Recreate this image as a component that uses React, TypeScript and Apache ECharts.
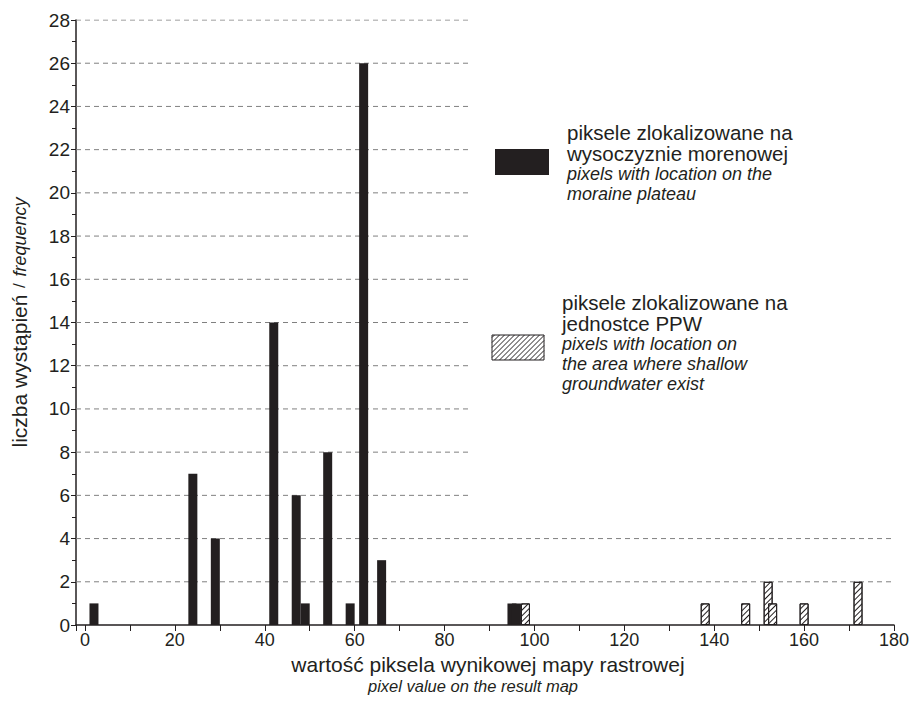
import React, { useEffect, useRef } from 'react';
import * as echarts from 'echarts';

// Black bars: pixels on the moraine plateau
const moraineX = [2, 24, 29, 42, 47, 49, 54, 59, 62, 66, 95, 96];
const moraineY = [1, 7, 4, 14, 6, 1, 8, 1, 26, 3, 1, 1];
// Hatched bars: pixels on PPW unit
const ppwX = [98, 138, 147, 152, 153, 160, 172];
const ppwY = [1, 1, 1, 2, 1, 1, 2];

const fullGridLevels = [2, 4];
const shortGridLevels = [6, 8, 10, 12, 14, 16, 18, 20, 22, 24, 26, 28];

const legendMoraine = ['piksele zlokalizowane na', 'wysoczyznie morenowej'];
const legendMoraineEn = ['pixels with location on the', 'moraine plateau'];
const legendPpw = ['piksele zlokalizowane na', 'jednostce PPW'];
const legendPpwEn = ['pixels with location on', 'the area where shallow', 'groundwater exist'];

const X_MIN = -2;
const X_MAX = 180;
const SHORT_GRID_END = 85.5;

const INK = '#231f20';
const FONT = "'Liberation Sans', Arial, Helvetica, sans-serif";

function hatchLines(x0: number, y0: number, w: number, h: number, step: number) {
  const x1 = x0 + w;
  const y1 = y0 + h;
  const out: any[] = [];
  for (let c = x0 + y0 + step / 2; c < x1 + y1; c += step) {
    const xa = Math.max(x0, c - y1);
    const xb = Math.min(x1, c - y0);
    if (xa < xb) {
      out.push({
        type: 'line',
        shape: { x1: xa, y1: c - xa, x2: xb, y2: c - xb },
        style: { stroke: INK, lineWidth: 1 },
        silent: true,
      });
    }
  }
  return out;
}

function legendText(x: number, y: number, pl: string[], en: string[]) {
  const text = [...pl.map((s) => `{a|${s}}`), ...en.map((s) => `{b|${s}}`)].join('\n');
  return {
    type: 'text',
    x,
    y,
    silent: true,
    style: {
      text,
      fill: INK,
      textAlign: 'left',
      textVerticalAlign: 'top',
      rich: {
        a: { fontSize: 20.5, fontFamily: FONT, fill: INK, color: INK, lineHeight: 21 },
        b: { fontSize: 18, fontStyle: 'italic', fontFamily: FONT, fill: INK, color: INK, lineHeight: 20 },
      },
    },
  };
}

export default function App() {
  const ref = useRef<HTMLDivElement>(null);
  useEffect(() => {
    const chart = echarts.init(ref.current!, null, { renderer: 'svg' });
    const gridSeries = [
      ...fullGridLevels.map((v) => ({ level: v, end: X_MAX })),
      ...shortGridLevels.map((v) => ({ level: v, end: SHORT_GRID_END })),
    ].map((g) => ({
      type: 'line',
      z: 1,
      silent: true,
      symbol: 'none',
      data: [
        [X_MIN, g.level],
        [g.end, g.level],
      ],
      lineStyle: { color: '#808080', width: 1, type: [5, 4] },
    }));

    const option: any = {
      animation: false,
      backgroundColor: '#ffffff',
      textStyle: { fontFamily: FONT },
      grid: { left: 76, right: 14, top: 20, bottom: 76, containLabel: false },
      xAxis: {
        type: 'value',
        min: X_MIN,
        max: X_MAX,
        splitNumber: 9,
        name: '{a|wartość piksela wynikowej mapy rastrowej}\n{b|pixel value on the result map}',
        nameLocation: 'middle',
        nameGap: 25,
        nameTextStyle: {
          color: INK,
          rich: {
            a: { fontSize: 21, fontFamily: FONT, color: INK, lineHeight: 23, padding: [0, 0, 0, 6] },
            b: { fontSize: 16.5, fontStyle: 'italic', fontFamily: FONT, color: INK, lineHeight: 20, padding: [0, 24, 0, 0] },
          },
        },
        axisLine: { onZero: false, lineStyle: { color: INK, width: 1.5 } },
        axisTick: { show: true, length: 6, lineStyle: { color: INK, width: 1 } },
        minorTick: { show: true, splitNumber: 2, length: 6, lineStyle: { color: INK, width: 1 } },
        axisLabel: {
          color: INK,
          fontSize: 18,
          fontFamily: FONT,
          margin: 6,
          formatter: (v: number) => (v < 0 ? '' : String(v)),
        },
        splitLine: { show: false },
      },
      yAxis: {
        type: 'value',
        min: 0,
        max: 28,
        interval: 2,
        name: '{a|liczba wystąpień}  {c|/}  {b|frequency}',
        nameLocation: 'middle',
        nameGap: 46,
        nameTextStyle: {
          color: INK,
          rich: {
            a: { fontSize: 21, fontFamily: FONT, color: INK },
            c: { fontSize: 17, fontFamily: FONT, color: INK },
            b: { fontSize: 18, fontStyle: 'italic', fontFamily: FONT, color: INK },
          },
        },
        axisLine: { show: true, onZero: false, lineStyle: { color: INK, width: 1.5 } },
        axisTick: { show: true, length: 5, lineStyle: { color: INK, width: 1 } },
        minorTick: { show: true, splitNumber: 2, length: 4, lineStyle: { color: INK, width: 1 } },
        axisLabel: { color: INK, fontSize: 19, fontFamily: FONT, margin: 6 },
        splitLine: { show: false },
      },
      series: [
        ...gridSeries,
        {
          type: 'bar',
          name: 'moraine',
          z: 3,
          barWidth: 9,
          data: moraineX.map((x, i) => [x, moraineY[i]]),
          itemStyle: { color: INK },
        },
        {
          type: 'bar',
          name: 'ppw',
          z: 3,
          barWidth: 9,
          barGap: '-100%',
          data: ppwX.map((x, i) => [x, ppwY[i]]),
          itemStyle: {
            color: '#ffffff',
            borderColor: INK,
            borderWidth: 1,
            decal: {
              symbol: 'rect',
              symbolSize: 1,
              dashArrayX: [1, 0],
              dashArrayY: [1, 3],
              rotation: -Math.PI / 4,
              color: INK,
            },
          },
        },
      ],
      graphic: [
        { type: 'rect', shape: { x: 495, y: 149, width: 54, height: 26 }, style: { fill: INK }, silent: true },
        legendText(567, 121.5, legendMoraine, legendMoraineEn),
        { type: 'rect', shape: { x: 492, y: 335, width: 52, height: 25 }, style: { fill: '#ffffff', stroke: INK, lineWidth: 1 }, silent: true },
        ...hatchLines(492, 335, 52, 25, 5),
        legendText(562, 291.5, legendPpw, legendPpwEn),
      ],
    };
    chart.setOption(option);
    return () => chart.dispose();
  }, []);
  return (
    <div
      ref={ref}
      style={{ position: 'fixed', left: 0, top: 0, width: 912, height: 701, background: '#fff' }}
    />
  );
}
